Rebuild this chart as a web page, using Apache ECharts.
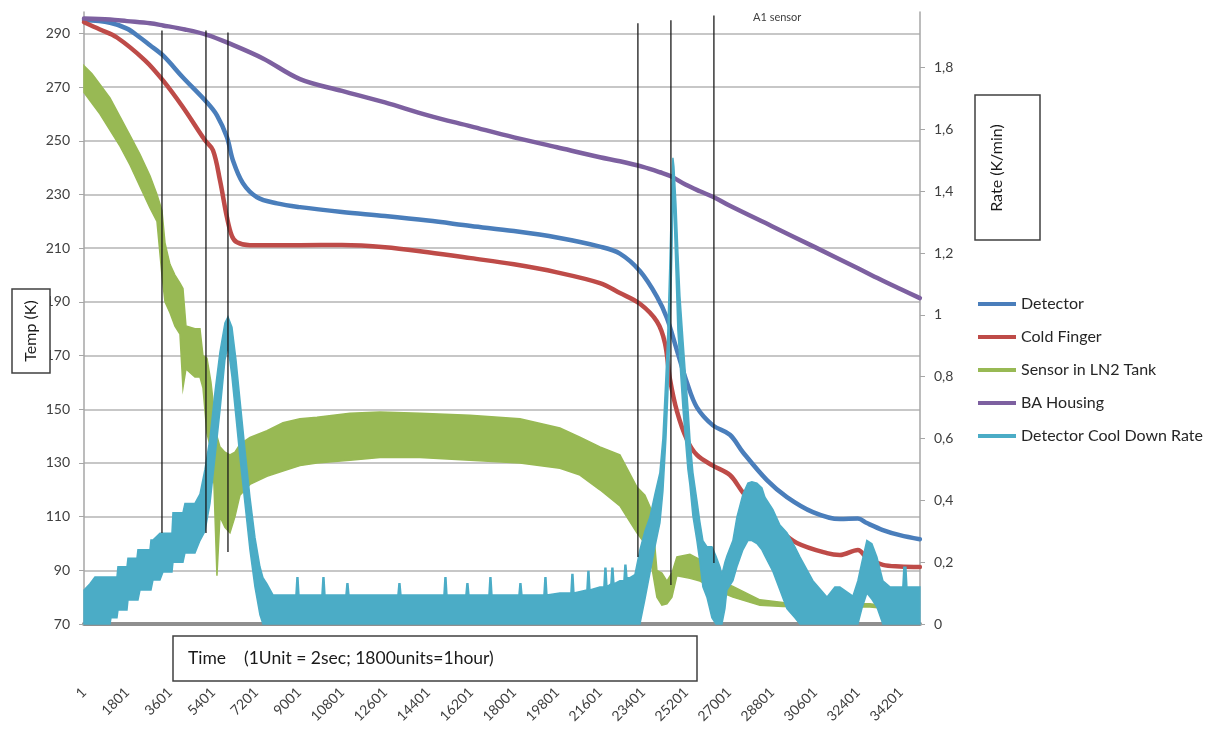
<!DOCTYPE html>
<html><head><meta charset="utf-8">
<script src="https://cdn.jsdelivr.net/npm/echarts@6/dist/echarts.min.js"></script>
<style>html,body{margin:0;padding:0;background:#fff}#c{width:1206px;height:729px}</style>
</head><body><div id="c"></div>
<script>
// ---- tick labels ----
const tempTicks = [70,90,110,130,150,170,190,210,230,250,270,290];
const rateTicks = [0,0.2,0.4,0.6,0.8,1,1.2,1.4,1.6,1.8];
const timeTicks = [1,1801,3601,5401,7201,9001,10801,12601,14401,16201,18001,19801,21601,23401,25201,27001,28801,30601,32401,34201];

// ---- Detector (K) ----
const detectorX = [1,1088,1800,2344,2763,3307,4144,5149,5567,5986,6237,6656,7242,8079,9042,10800,12600,14400,16200,18000,19800,21600,22437,23274,23986,24404,24823,25242,25660,26330,27042,27586,28591,29428,30516,31646,32400,32776,33446,34158,34995];
const detectorT = [295,294,291.8,288.5,285.6,281.8,273.6,264.3,259.5,251.3,242.7,234.2,229,226.7,225.3,223.5,222,220.3,218.3,216.4,214,210.6,208,201.5,192,184,172,160,150.7,144,140.5,134,123.6,117.3,111.7,109.1,109.3,107.6,105,103.1,101.6];

// ---- Cold Finger (K) ----
const coldX = [1,670,1381,2553,3307,4144,5065,5400,5693,5986,6195,6405,6949,9042,10800,12600,14400,16200,18000,19800,21600,22437,23274,23986,24321,24530,24823,25242,25660,26330,27042,27586,28298,29135,29846,31102,31646,32400,32776,33446,34158,34995];
const coldT = [294.2,291.5,288.5,280,272.5,262.5,250.2,246.5,235.3,221.5,214.5,212.2,211.1,211.1,211.2,210.4,208.5,206.3,204,201,197,193.3,189.3,182.7,174.7,161.3,149.3,138.7,133,129,125.5,119,112,105,100.2,96.4,95.7,97.6,94.6,92,91.4,91.2];

// ---- Sensor in LN2 Tank (K): envelope of the oscillating trace ----
const tankX = [1,335,670,1088,1507,1926,2344,2763,3056,3265,3391,3600,3809,4019,4144,4270,4646,4856,4981,5149,5316,5442,5567,5693,5902,6112,6321,6530,6949,7660,8330,9042,9753,11135,12391,14065,16158,18251,19925,20763,21600,22437,23149,23483,23776,23986,24195,24404,24614,24823,25367,25786,26205,26623,27167,28298,29260,30809,32902,33321];
const tankHigh = [278,275,271,266,259,252,245,237,230,224,212,204,200,197,195,181,180,180,170,169,160,150,140,136,134,133,134,137,139.5,142,145,146.5,147,148.5,149,148.5,147.8,146.5,143,139.6,136,133,121,118,112,90,89,86,89,95,96,94,89,86,84,79,78,77.5,77.5,77];
const tankLow = [268,264,260,254,248,241,233,225,220,200,190,186,181,178,158,165,162,162,158,141,135,122,88,110,106,104,110,118,122,125,127,129,130,131,132,132,131,130,128,125.5,120,114,104,100,91,80,77,77.5,80,88,87,86,84,82,80,77,76.5,76.3,76.3,76];

// ---- BA Housing (K) ----
const housingX = [1,1088,1800,2763,3307,4228,5149,6028,7493,9042,10800,12600,14400,16200,18000,19800,21600,22437,23400,24111,24572,25200,25786,26372,27000,28800,30600,32400,33321,34200,34995];
const housingT = [295.6,295.2,294.6,293.8,293,291.5,289.5,286.5,280.7,273,268.6,264.3,259.5,255.4,251.3,247.6,243.9,242.4,240.3,238.3,236.8,233.6,231.2,229,226,218.2,210.4,202.5,198.4,194.7,191.4];

// ---- Detector Cool Down Rate (K/min): envelope of the noisy trace ----
const rateX = [1,251,460,1088,1130,1381,1423,1800,1842,2219,2260,2344,2763,2805,2888,3181,3307,3684,3726,4144,4228,4646,4856,5065,5274,5484,5693,5902,6028,6195,6363,6530,6740,6949,7158,7367,7493,7660,7912,
8874,8916,8958,9000,9963,10005,10047,10088,10968,11009,11051,11093,13144,13186,13228,13270,15070,15112,15154,15195,15990,16032,16074,16116,16954,16996,17037,17079,18210,18251,18293,18335,19256,19298,19340,19381,19925,20386,20428,20470,20512,21056,21098,21140,21181,21600,21767,21809,21851,21893,22060,22102,22144,22186,22437,22605,22646,22688,22730,22856,
23065,23274,23483,23693,23902,24111,24237,24363,24446,24530,24614,24655,24697,24781,24865,24949,25074,25158,25284,25367,25493,25660,25786,25911,26079,26288,26456,26623,26707,26833,26916,27167,27335,27586,27795,27962,28172,28382,28507,28842,29135,29428,29763,29972,30516,31102,31437,31646,32191,32400,32567,32776,32986,33195,33446,33739,34283,34325,34409,34451,34995];
const rateLow = [0,0,0,0,0.02,0.02,0.045,0.045,0.078,0.078,0.078,0.11,0.11,0.11,0.142,0.142,0.168,0.168,0.2,0.2,0.23,0.23,0.27,0.3,0.39,0.54,0.69,0.855,0.9,0.8,0.67,0.54,0.39,0.24,0.12,0.03,0,0,0,
0,0,0,0,0,0,0,0,0,0,0,0,0,0,0,0,0,0,0,0,0,0,0,0,0,0,0,0,0,0,0,0,0,0,0,0,0,0,0,0,0,0,0,0,0,0,0,0,0,0,0,0,0,0,0,0,0,0,0,0,
0,0,0.08,0.165,0.25,0.327,0.43,0.6,0.75,0.95,1.2,1.4,1.35,1.15,0.95,0.85,0.7,0.62,0.5,0.45,0.35,0.27,0.2,0.12,0.087,0.02,0,0,0,0.05,0.11,0.14,0.185,0.24,0.27,0.27,0.26,0.24,0.22,0.17,0.11,0.05,0.02,0,0,0,0,0,0,0,0.05,0.1,0.08,0.055,0,0,0,0,0,0,0];
const rateHigh = [0.11,0.13,0.152,0.152,0.152,0.152,0.185,0.185,0.213,0.213,0.24,0.24,0.24,0.272,0.272,0.294,0.294,0.294,0.36,0.36,0.39,0.39,0.42,0.5,0.6,0.75,0.88,0.974,0.994,0.96,0.855,0.725,0.563,0.41,0.28,0.185,0.15,0.13,0.094,
0.094,0.15,0.15,0.094,0.094,0.15,0.15,0.094,0.094,0.13,0.13,0.094,0.094,0.13,0.13,0.094,0.094,0.15,0.15,0.094,0.094,0.13,0.13,0.094,0.094,0.15,0.15,0.094,0.094,0.13,0.13,0.094,0.094,0.15,0.15,0.094,0.1,0.1,0.16,0.16,0.1,0.11,0.17,0.17,0.11,0.12,0.12,0.18,0.18,0.12,0.13,0.18,0.18,0.13,0.14,0.14,0.19,0.19,0.15,0.15,
0.16,0.24,0.3,0.346,0.42,0.49,0.6,0.8,0.95,1.17,1.42,1.508,1.48,1.36,1.2,1.06,0.92,0.83,0.7,0.6,0.49,0.4,0.33,0.27,0.25,0.25,0.22,0.185,0.16,0.2,0.22,0.27,0.346,0.42,0.456,0.46,0.456,0.44,0.41,0.37,0.32,0.295,0.25,0.217,0.14,0.087,0.12,0.12,0.09,0.14,0.2,0.27,0.26,0.217,0.14,0.12,0.12,0.184,0.184,0.12,0.12];

// ---- vertical annotation lines (time units, K) ----
const markerX = [3265,5107,6028,23190,24572,26372];
const markerTop = [291.1,291.1,290.4,293.8,294.9,296.7];
const markerBottom = [103.9,103.9,96.8,95,84.5,92.7];

const names = ['Detector','Cold Finger','Sensor in LN2 Tank','BA Housing','Detector Cool Down Rate'];
const colors = ['#4a7ebb','#be4b48','#98b954','#7d60a0','#4bacc6'];
const FONT = 'Lato';

const zip = (xs, ys) => xs.map((x, i) => [x, ys[i]]);

function lineSeries(name, xs, ys, color, z) {
  return {
    name, type: 'line', data: zip(xs, ys), yAxisIndex: 0, z,
    symbol: 'none', showSymbol: false, smooth: 0.35,
    lineStyle: { width: 4.5, color, cap: 'round', join: 'round' }, itemStyle: { color }
  };
}
function bandSeries(name, xs, lo, hi, color, yAxisIndex, z) {
  return {
    name, type: 'custom', yAxisIndex, z,
    data: xs.map((x, i) => [x, lo[i], hi[i]]),
    encode: { x: 0, y: [1, 2] },
    itemStyle: { color },
    renderItem: function (params, api) {
      if (params.dataIndex !== 0) return null;
      const pts = [];
      for (let i = 0; i < xs.length; i++) pts.push(api.coord([xs[i], hi[i]]));
      for (let i = xs.length - 1; i >= 0; i--) pts.push(api.coord([xs[i], lo[i]]));
      return { type: 'polygon', shape: { points: pts }, style: { fill: color, stroke: color, lineWidth: 1.5 } };
    }
  };
}

const markerData = [];
markerX.forEach((x, i) => { markerData.push([x, markerTop[i]], [x, markerBottom[i]], [x, '-']); });

const chart = echarts.init(document.getElementById('c'), null, { renderer: 'canvas' });
chart.setOption({
  animation: false,
  backgroundColor: '#ffffff',
  textStyle: { fontFamily: FONT },
  grid: { left: 84, right: 286, top: 12, bottom: 105 },
  legend: {
    data: names, orient: 'vertical', left: 973, top: 289,
    icon: 'rect', itemWidth: 38, itemHeight: 4, itemGap: 13, selectedMode: false,
    textStyle: { fontSize: 16, fontFamily: FONT, color: '#262626', lineHeight: 20 }
  },
  xAxis: {
    type: 'value', min: 1, max: 35000, interval: 1800,
    axisLine: { show: true, onZero: false, lineStyle: { color: '#8f8f8f', width: 4 } },
    axisTick: { show: false }, splitLine: { show: false },
    axisLabel: {
      rotate: 45, margin: 66, fontSize: 14, color: '#404040', fontFamily: FONT, showMaxLabel: false,
      formatter: v => timeTicks.includes(v) ? String(v) : ''
    }
  },
  yAxis: [
    {
      type: 'value', min: 70, max: 298, interval: 20, position: 'left',
      axisLine: { show: true, lineStyle: { color: '#a6a6a6', width: 1.5 } },
      axisTick: { show: true, inside: false, length: 5, lineStyle: { color: '#a6a6a6' } },
      splitLine: { show: true, showMaxLine: false, lineStyle: { color: '#b4b4b4', width: 1.5 } },
      axisLabel: {
        margin: 14, fontSize: 14, color: '#404040', fontFamily: FONT, showMaxLabel: false,
        formatter: v => tempTicks.includes(v) ? String(v) : ''
      }
    },
    {
      type: 'value', min: 0, max: 1.98, interval: 0.2, position: 'right',
      axisLine: { show: true, lineStyle: { color: '#a6a6a6', width: 1.5 } },
      axisTick: { show: true, inside: false, length: 5, lineStyle: { color: '#a6a6a6' } },
      splitLine: { show: false },
      axisLabel: {
        margin: 14, fontSize: 14, color: '#404040', fontFamily: FONT, showMaxLabel: false,
        formatter: v => {
          const t = rateTicks.find(r => Math.abs(r - v) < 1e-6);
          return t === undefined ? '' : String(t).replace('.', ',');
        }
      }
    }
  ],
  series: [
    lineSeries(names[0], detectorX, detectorT, colors[0], 3),
    lineSeries(names[1], coldX, coldT, colors[1], 3),
    bandSeries(names[2], tankX, tankLow, tankHigh, colors[2], 0, 2),
    lineSeries(names[3], housingX, housingT, colors[3], 3),
    bandSeries(names[4], rateX, rateLow, rateHigh, colors[4], 1, 5),
    {
      name: 'markers', type: 'line', yAxisIndex: 0, z: 10, data: markerData,
      symbol: 'none', showSymbol: false, connectNulls: false,
      lineStyle: { color: '#1a1a1a', width: 1.3 }, itemStyle: { color: '#1a1a1a' }
    }
  ],
  graphic: [
    { type: 'rect', z: 100, shape: { x: 173, y: 636, width: 524, height: 45 }, style: { fill: '#fff', stroke: '#404040', lineWidth: 1.5 } },
    { type: 'text', z: 101, x: 188, y: 658, style: { text: 'Time    (1Unit = 2sec; 1800units=1hour)', font: '17.5px Lato', fill: '#1a1a1a', verticalAlign: 'middle' } },
    { type: 'rect', z: 100, shape: { x: 12, y: 289, width: 38, height: 84 }, style: { fill: '#fff', stroke: '#404040', lineWidth: 1.5 } },
    { type: 'text', z: 101, x: 31, y: 331, rotation: Math.PI / 2, style: { text: 'Temp (K)', font: '16px Lato', fill: '#1a1a1a', align: 'center', verticalAlign: 'middle' } },
    { type: 'rect', z: 100, shape: { x: 975, y: 95, width: 65, height: 145 }, style: { fill: '#fff', stroke: '#404040', lineWidth: 1.5 } },
    { type: 'text', z: 101, x: 997, y: 168, rotation: Math.PI / 2, style: { text: 'Rate (K/min)', font: '16px Lato', fill: '#1a1a1a', align: 'center', verticalAlign: 'middle' } },
    { type: 'text', z: 101, x: 753, y: 17, style: { text: 'A1 sensor', font: '11px Lato', fill: '#404040', verticalAlign: 'middle' } }
  ]
});
</script>
</body></html>
